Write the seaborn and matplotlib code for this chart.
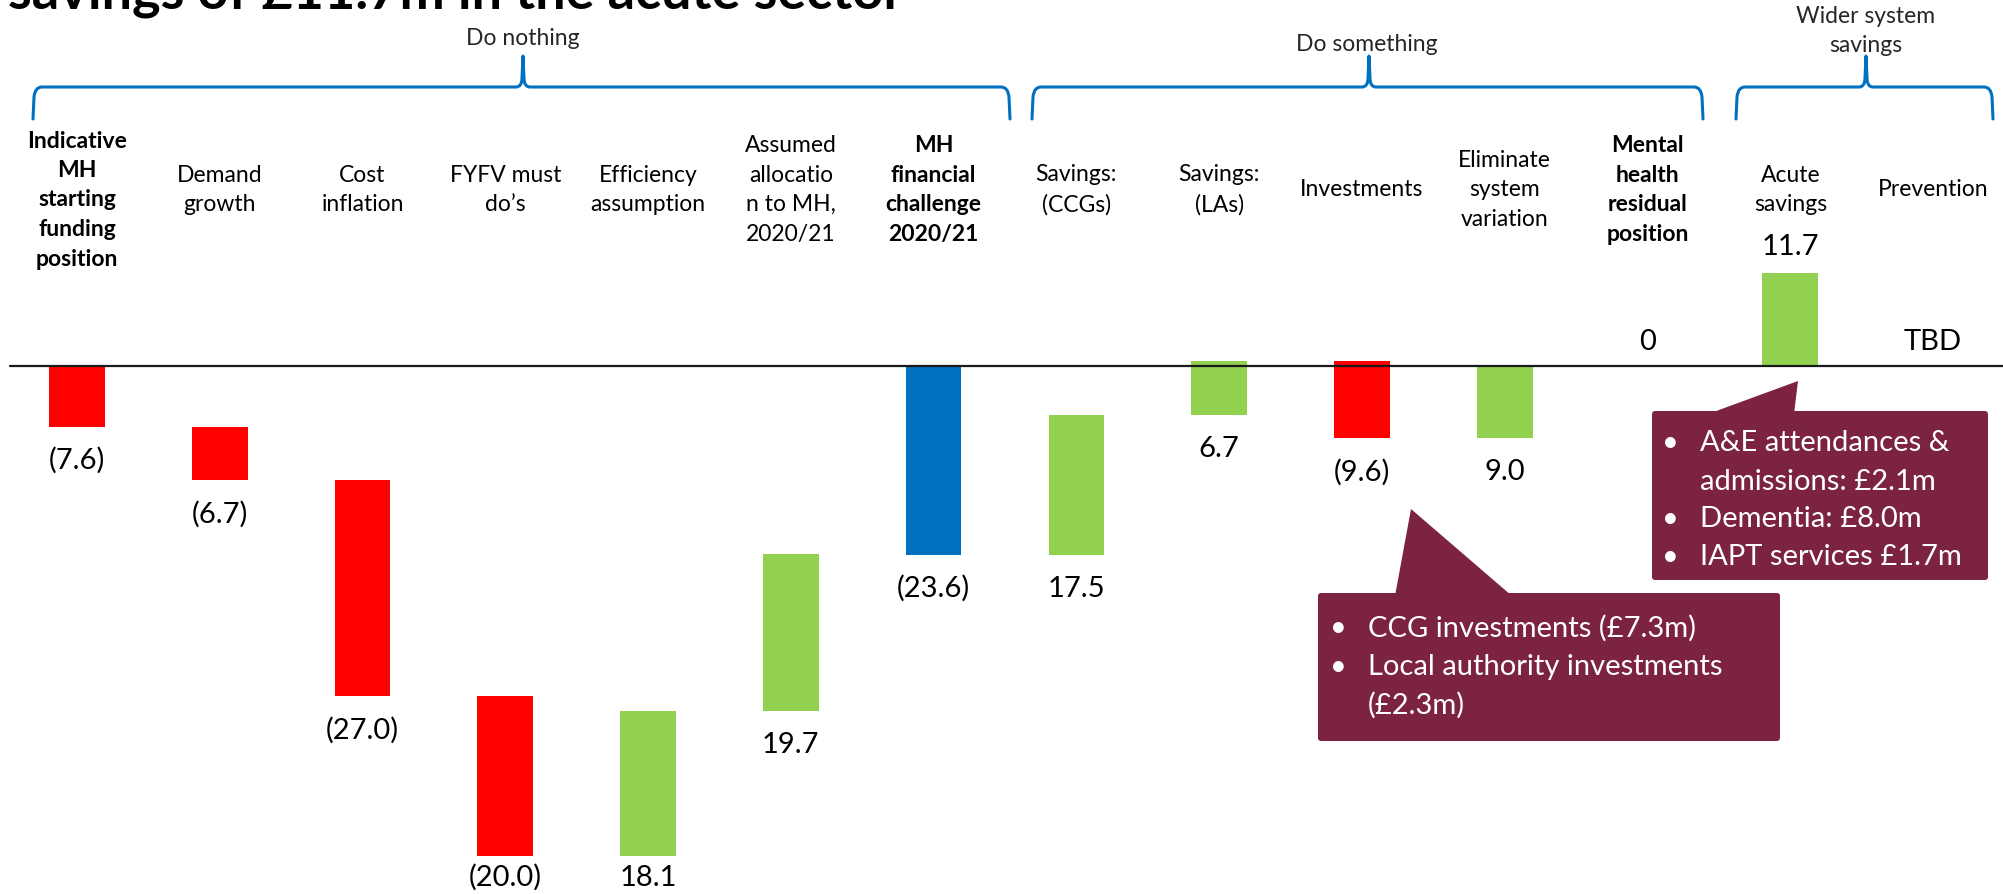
import numpy as np
import pandas as pd
import matplotlib
matplotlib.use("Agg")
import matplotlib.pyplot as plt
import seaborn as sns
from matplotlib.path import Path
from matplotlib.patches import PathPatch, Polygon, FancyBboxPatch
from matplotlib.transforms import blended_transform_factory

# ---- data ----
categories = [
    "Indicative\nMH\nstarting\nfunding\nposition",
    "Demand\ngrowth",
    "Cost\ninflation",
    "FYFV must\ndo’s",
    "Efficiency\nassumption",
    "Assumed\nallocatio\nn to MH,\n2020/21",
    "MH\nfinancial\nchallenge\n2020/21",
    "Savings:\n(CCGs)",
    "Savings:\n(LAs)",
    "Investments",
    "Eliminate\nsystem\nvariation",
    "Mental\nhealth\nresidual\nposition",
    "Acute\nsavings",
    "Prevention",
]
bold_cats = [True, False, False, False, False, False, True,
             False, False, False, False, True, False, False]
values = [-7.6, -6.7, -27.0, -20.0, 18.1, 19.7, -23.6,
          17.5, 6.7, -9.6, 9.0, 0.0, 11.7, 0.0]
bar_kind = ["step"] * 6 + ["total"] + ["step"] * 4 + ["total", "side", "side"]
value_labels = ["(7.6)", "(6.7)", "(27.0)", "(20.0)", "18.1", "19.7", "(23.6)",
                "17.5", "6.7", "(9.6)", "9.0", "0", "11.7", "TBD"]

groups = ["Do nothing", "Do something", "Wider system\nsavings"]
callout_ccg = [("•", "CCG investments (£7.3m)"),
               ("•", "Local authority investments"),
               ("", "(£2.3m)")]
callout_acute = [("•", "A&E attendances &"),
                 ("", "admissions: £2.1m"),
                 ("•", "Dementia: £8.0m"),
                 ("•", "IAPT services £1.7m")]
title = "savings of £11.7m in the acute sector"

RED, GREEN, BLUE, MAROON = "#FF0000", "#92D050", "#0070C0", "#7B2341"

# waterfall bottoms from the running total
running = 0.0
bottoms = []
for v, k in zip(values, bar_kind):
    if k == "step":
        bottoms.append(running)
        running += v
    elif k == "total":
        bottoms.append(0.0)
        running = v
    else:
        bottoms.append(0.0)

colors = []
for v, k in zip(values, bar_kind):
    if k == "total":
        colors.append(BLUE)
    else:
        colors.append(GREEN if v > 0 else RED)

df = pd.DataFrame({"cat": categories, "value": values, "bottom": bottoms})

sns.set_theme(style="white")
plt.rcParams["font.family"] = ["Lato", "DejaVu Sans"]

W, H = 2003, 895
fig = plt.figure(figsize=(W / 100, H / 100), dpi=100)
fig.patch.set_facecolor("white")

ax = fig.add_axes([0, 0, 1, 1])
sns.barplot(data=df, x="cat", y="value", order=categories, bottom=df["bottom"].values,
            width=0.39, color=RED, saturation=1, errorbar=None, ax=ax)
for patch, c in zip(ax.patches, colors):
    patch.set_facecolor(c)
    patch.set_edgecolor("none")
    patch.set_linewidth(0)

ax.set_xlim(-0.539, 13.49)
ax.set_ylim(-66.08, 45.93)
ax.axis("off")
ax.axhline(0, xmin=0.005, xmax=1, color="#1a1a1a", lw=1.6, zorder=3)

# value labels (px offsets converted to data units, ~8 px per unit)
ppu = 7.99
for i, (v, b, k, lbl) in enumerate(zip(values, bottoms, bar_kind, value_labels)):
    low, top = min(b, b + v), max(b, b + v)
    if k == "side" or (k == "total" and v == 0):
        y = top + (27 if v != 0 else 25) / ppu
    else:
        y = max(low - 33 / ppu, -63.9)
    ax.text(i, y, lbl, ha="center", va="center", fontsize=21, color="black")

# category labels
trans = blended_transform_factory(ax.transData, ax.transAxes)
for i, (cat, bold) in enumerate(zip(categories, bold_cats)):
    yc = 200 if i == 0 else 190
    ax.text(i, 1 - yc / H, cat, transform=trans, ha="center", va="center",
            fontsize=16.5, fontweight="bold" if bold else "normal",
            linespacing=1.5, color="black")

# overlay in pixel coords for braces, callouts and title
ov = fig.add_axes([0, 0, 1, 1], facecolor="none")
ov.set_xlim(0, W)
ov.set_ylim(H, 0)
ov.axis("off")


def brace(x0, xm, x1, yh=88, ye=120, yp=57):
    verts = [(x0, ye), (x0 + 1, yh + 10), (x0 + 2, yh), (x0 + 9, yh),
             (xm - 7, yh), (xm - 1, yh), (xm - 1, yh - 9), (xm, yp),
             (xm + 1, yh - 9), (xm + 1, yh), (xm + 7, yh),
             (x1 - 9, yh), (x1 - 2, yh), (x1 - 1, yh + 10), (x1, ye)]
    codes = [Path.MOVETO, Path.LINETO, Path.CURVE3, Path.CURVE3,
             Path.LINETO, Path.CURVE3, Path.CURVE3, Path.LINETO,
             Path.LINETO, Path.CURVE3, Path.CURVE3,
             Path.LINETO, Path.CURVE3, Path.CURVE3, Path.LINETO]
    return PathPatch(Path(verts, codes), fill=False, edgecolor=BLUE, lw=2.2,
                     capstyle="round", joinstyle="round")


spans = [(33, 523, 1010), (1032, 1369, 1703), (1736, 1866, 1993)]
label_pos = [(523, 38), (1367, 44), (1866, 31)]
for (x0, xm, x1), (lx, ly), g in zip(spans, label_pos, groups):
    ov.add_patch(brace(x0, xm, x1))
    ov.text(lx, ly, g, ha="center", va="center", fontsize=16.5, linespacing=1.5)


def callout(box, tri, lines, xb, xt, ys):
    x0, y0, x1, y1 = box
    ov.add_patch(FancyBboxPatch((x0, y0), x1 - x0, y1 - y0,
                                boxstyle="round,pad=0,rounding_size=3",
                                facecolor=MAROON, edgecolor="none"))
    ov.add_patch(Polygon(tri, closed=True, facecolor=MAROON, edgecolor="none"))
    for (b, t), y in zip(lines, ys):
        if b:
            ov.text(xb, y, b, color="white", fontsize=21, va="center", ha="center")
        ov.text(xt, y, t, color="white", fontsize=21, va="center", ha="left")


callout((1318, 594, 1780, 742), [(1395, 597), (1411, 510), (1512, 597)],
        callout_ccg, 1338, 1368, [628, 667, 705])
callout((1652, 412, 1988, 581), [(1708, 415), (1798, 382), (1794, 415)],
        callout_acute, 1670, 1700, [443, 482, 519, 557])

ov.text(8, 8, title, ha="left", va="baseline", fontsize=39, fontweight="bold",
        color="black")

fig.savefig("out.png", dpi=100)
